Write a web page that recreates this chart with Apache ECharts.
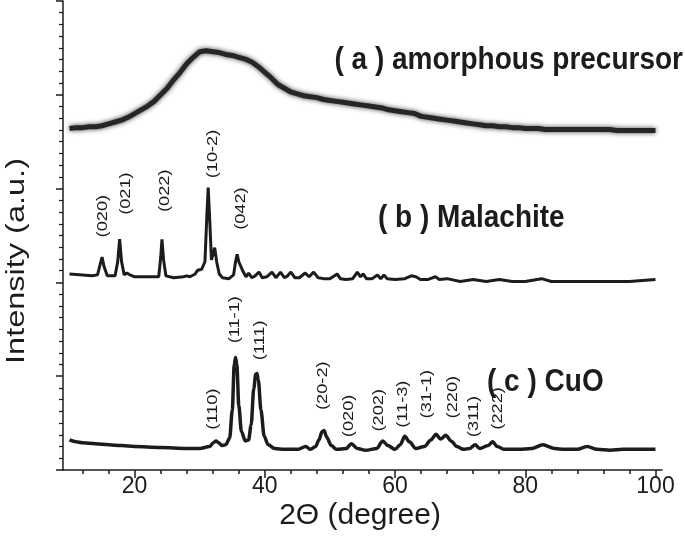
<!DOCTYPE html>
<html>
<head>
<meta charset="utf-8">
<script src="https://cdn.jsdelivr.net/npm/echarts@6/dist/echarts.min.js"></script>
<style>html,body{margin:0;padding:0;background:#fff}#c{width:685px;height:536px}</style>
</head>
<body>
<div id="c"></div>
<script>
// ---- data (2-theta in degrees, intensity in a.u. with vertical offsets as plotted) ----
const amorphousTheta = [10,11,12,13,14,15,16,17,18,19,20,21,22,23,24,25,26,27,28,29,30,31,32,33,34,35,36,37,38,39,40,41,42,43,44,45,46,47,48,49,50,51,52,53,54,55,56,57,58,59,60,61,62,63,64,65,66,67,68,69,70,71,72,73,74,75,76,77,78,79,80,81,82,83,84,85,86,87,88,89,90,91,92,93,94,95,96,97,98,99,100];
const amorphousI = [364,365,365,366,366,367,369,371,373,376,380,384,388,393,400,407,416,424,433,440,446,447,446,445,443,442,440,438,435,430,424,418,411,407,403,401,399,398,397,395,394,393,392,391,390,389,388,387,386,384,383,382,381,380,377,376,375,374,373,372,371,370,369,368,367,367,366,366,365,365,364,364,364,363,363,363,363,363,363,363,363,363,363,363,362,362,362,362,362,362,362];

const malachiteTheta = [10,12,13.5,14.3,14.7,15.0,15.3,15.8,17.0,17.4,17.7,18.0,18.4,18.8,19.0,19.3,20,22,23.7,24.0,24.2,24.45,24.8,26,27.5,28,28.5,29.3,29.7,30.0,30.3,30.8,31.1,31.3,31.5,31.8,32.1,32.3,32.6,33.0,33.5,34.5,35.2,35.5,35.75,36.0,36.3,36.7,37.1,37.5,38.0,38.5,39.1,39.6,40.3,41.1,41.7,42.4,43.0,43.5,44.0,44.6,45.3,46.2,46.8,47.5,48.2,49,50,51.1,51.6,52.5,53.5,54.2,54.7,55.1,55.6,56.5,57.3,57.8,58.3,58.8,60,61.5,62.5,63.2,63.9,65,66.2,66.8,68,70,72,74,76,78,80,82.5,84,88,92,96,100];
const malachiteI = [209,208,207,208,219,227,217,207,207,222,246,222,208,210,212,208,206,206,206,226,246,224,207,205,206,207,206,209,213,211,214,222,272,301,272,224,232,237,222,209,205,204,208,222,230,222,220,211,206,210,205,207,211,205,206,211,205,211,205,207,211,205,205,210,206,211,205,204,204,209,204,203,204,211,206,209,204,204,208,204,208,204,203,204,207,206,203,203,206,203,204,201,203,201,203,201,201,204,201,201,201,201,203];

const cuoTheta = [10,11,12,14,16,18,20,24,28,30,31.5,32.1,32.5,32.9,33.4,34.0,34.6,35.0,35.3,35.5,35.7,36.0,36.4,37.0,37.5,37.9,38.3,38.6,38.8,39.0,39.4,39.9,40.5,41.5,43,45,46.3,47,47.8,48.3,48.8,49.1,49.5,50.2,51,52.5,53.3,54.2,55.5,57.2,58.1,58.9,60,60.8,61.5,62.2,63.2,64.5,65.5,66.3,67.0,67.8,68.6,69.5,70.5,71.5,72.3,73.0,74.3,75.0,75.7,76.8,79,81,82.7,84.5,86,88,89.5,91,93,95,98,100];
const cuoI = [32,30,29,28,27,26,25,24,23,23,25,29,31,29,26,27,34,64,112,120,112,69,41,31,32,48,87,102,103,96,64,36,27,23,22,22,25,22,25,32,41,42,35,26,22,23,28,23,21,23,31,26,22,27,36,30,23,25,32,38,33,37,31,25,22,23,27,23,26,30,25,22,22,23,27,23,22,22,25,22,21,22,22,22];

const malachiteLabels = ['(020)','(021)','(022)','(10-2)','(042)'];
const malachiteLabelTheta = [15.2,18.7,24.7,32.1,36.3];
const malachiteLabelI = [248,272,275,311,256];

const cuoLabels = ['(110)','(11-1)','(111)','(20-2)','(020)','(202)','(11-3)','(31-1)','(220)','(311)','(222)'];
const cuoLabelTheta = [32.1,35.5,39.3,49.0,52.9,57.6,61.3,65.0,68.9,72.1,75.8];
const cuoLabelI = [43,135,117,64,35,41,45,55,55,35,43];

const xMajorTicks = [20,40,60,80,100];
const xMinorTicks = [12,16,24,28,32,36,44,48,52,56,64,68,72,76,84,88,92,96];

const seriesNames = ['( a ) amorphous precursor','( b ) Malachite','( c ) CuO'];
const xTitle = '2\u0398 (degree)';
const yTitle = 'Intensity (a.u.)';

// ---- chart ----
const INK = '#1c1c1c';
const SANS = "'Liberation Sans', Arial, sans-serif";
const zip = (a, b) => a.map((v, i) => [v, b[i]]);

function labelSeries(names, th, inten) {
  return {
    type: 'custom',
    data: zip(th, inten),
    silent: true,
    clip: false,
    renderItem: function (params, api) {
      const p = api.coord([api.value(0), api.value(1)]);
      return {
        type: 'text',
        x: p[0], y: p[1],
        rotation: Math.PI / 2,
        scaleX: 1.3,
        style: { text: names[params.dataIndex], font: '14px ' + SANS, fill: INK, align: 'left', verticalAlign: 'middle' }
      };
    }
  };
}

const chart = echarts.init(document.getElementById('c'), null, { renderer: 'canvas' });
chart.setOption({
  animation: false,
  backgroundColor: '#fff',
  grid: { left: 63, right: 23, top: 1, bottom: 66 },
  xAxis: [
    {
      type: 'value', min: 9, max: 101,
      axisLine: { lineStyle: { color: INK, width: 1.5 } },
      axisTick: { customValues: xMajorTicks, length: 8, lineStyle: { color: INK, width: 1.5 } },
      axisLabel: { customValues: xMajorTicks, fontFamily: SANS, fontSize: 23, color: INK, margin: 5 },
      splitLine: { show: false }
    },
    {
      type: 'value', min: 9, max: 101, position: 'bottom',
      axisLine: { show: false },
      axisTick: { customValues: xMinorTicks, length: 4, lineStyle: { color: INK, width: 1.5 } },
      axisLabel: { show: false },
      splitLine: { show: false }
    }
  ],
  yAxis: {
    type: 'value', min: 0, max: 500, interval: 100,
    axisLine: { show: true, lineStyle: { color: INK, width: 1.5 } },
    axisTick: { show: true, length: 7, lineStyle: { color: INK, width: 1.5 } },
    minorTick: { show: true, splitNumber: 8, length: 4, lineStyle: { color: INK, width: 1.2 } },
    axisLabel: { show: false },
    splitLine: { show: false }, minorSplitLine: { show: false }
  },
  series: [
    { type: 'line', name: seriesNames[0], data: zip(amorphousTheta, amorphousI), showSymbol: false,
      lineStyle: { color: '#262626', width: 5, shadowColor: 'rgba(0,0,0,0.75)', shadowBlur: 5 } },
    { type: 'line', name: seriesNames[1], data: zip(malachiteTheta, malachiteI), showSymbol: false, lineStyle: { color: INK, width: 3 } },
    { type: 'line', name: seriesNames[2], data: zip(cuoTheta, cuoI), showSymbol: false, smooth: 0.3, smoothMonotone: 'x', lineStyle: { color: INK, width: 3.5 } },
    labelSeries(malachiteLabels, malachiteLabelTheta, malachiteLabelI),
    labelSeries(cuoLabels, cuoLabelTheta, cuoLabelI)
  ],
  graphic: [
    { type: 'text', x: 683, y: 60, scaleY: 1.12, style: { text: seriesNames[0], font: 'bold 28px ' + SANS, fill: INK, align: 'right', verticalAlign: 'middle' } },
    { type: 'text', x: 378, y: 218, scaleY: 1.12, style: { text: seriesNames[1], font: 'bold 28px ' + SANS, fill: INK, align: 'left', verticalAlign: 'middle' } },
    { type: 'text', x: 487, y: 382, scaleY: 1.12, style: { text: seriesNames[2], font: 'bold 28px ' + SANS, fill: INK, align: 'left', verticalAlign: 'middle' } },
    { type: 'text', x: 360, y: 516, style: { text: xTitle, font: '30px ' + SANS, fill: INK, align: 'center', verticalAlign: 'middle' } },
    { type: 'text', x: 17, y: 261, rotation: Math.PI / 2, scaleX: 1.25, style: { text: yTitle, font: '26px ' + SANS, fill: INK, align: 'center', verticalAlign: 'middle' } }
  ]
});
</script>
</body>
</html>
